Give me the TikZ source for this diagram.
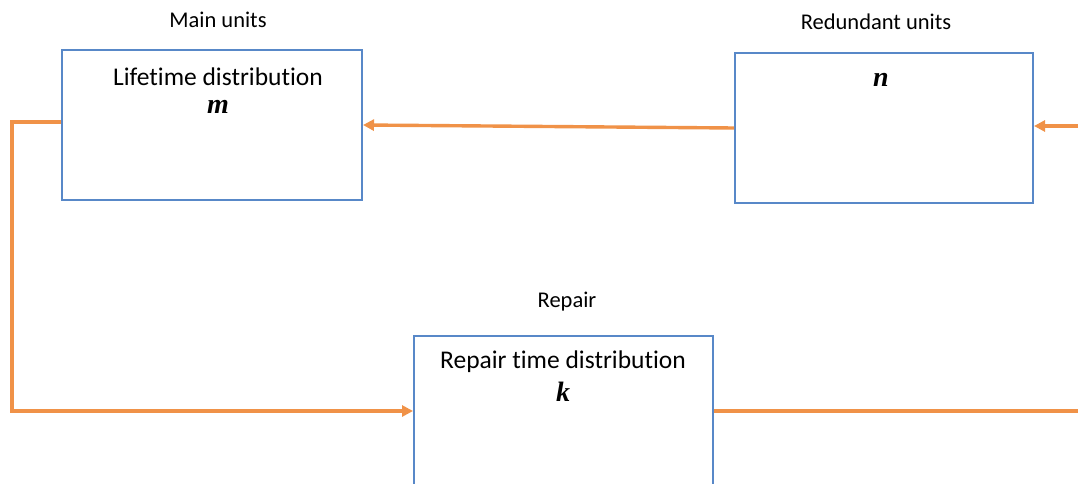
\documentclass[tikz,border=0pt]{standalone}
\usepackage{fontspec}
\setmainfont{Carlito}[Ligatures=NoCommon]
\newfontfamily\varfont{Liberation Serif}
\usepackage{tikz}
\usetikzlibrary{arrows.meta}

\definecolor{boxblue}{RGB}{88,136,200}
\definecolor{linkorange}{RGB}{240,146,72}

\tikzset{
  unitbox/.style={draw=boxblue, line width=2pt, minimum width=300pt, minimum height=150pt},
  link/.style={draw=linkorange, line width=3.4pt},
  tip/.style={-{Triangle[length=11pt,width=11pt]}},
  caption/.style={font=\fontsize{22.5}{27}\selectfont},
  inner/.style={font=\fontsize{25.5}{30}\selectfont, align=center},
}
\newcommand{\var}[1]{{\varfont\fontsize{28}{30}\selectfont\bfseries\itshape #1}}

\begin{document}
\begin{tikzpicture}[x=1pt, y=-1pt]

\useasboundingbox[fill=white] (0,0) rectangle (1078,484);

% boxes
\node[unitbox] (main) at (212,125) {};
\node[unitbox, minimum width=298pt] (red) at (884,128) {};
\node[unitbox, minimum width=299pt] (rep) at (563.5,411) {};

% titles over the boxes
\node[caption] (mainlbl) at (218,20) {Main units};
\node[caption] (redlbl) at (876,22) {Redundant units};
\node[caption] (replbl) at (567,302) {Repair};

% texts in the boxes
\node[inner] (maintxt) at (218,77) {Lifetime distribution};
\node[inner] (mainvar) at (218,107) {\var{m}};
\node[inner] (redvar) at (881,80) {\var{n}};
\node[inner] (reptxt) at (563,362) {Repair time distribution};
\node[inner] (repvar) at (563,392) {\var{k}};

% links
\coordinate (rin) at (1078,126);
\coordinate (rout) at (1078,410);
\coordinate (bend) at (12,122);

\draw[link, tip] (red.west) -- (main.east);
\draw[link, tip] (rin) -- (red.east |- rin);
\draw[link, tip] (main.west |- bend) -- (bend) |- (rep.west);
\draw[link] (rep.east) -- (rep.east -| rout);

\end{tikzpicture}
\end{document}
